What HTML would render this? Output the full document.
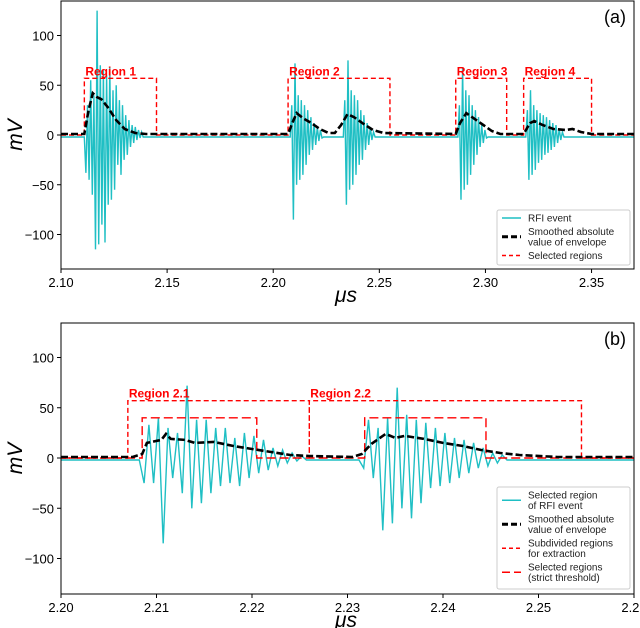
<!DOCTYPE html>
<html><head><meta charset="utf-8"><style>
body{margin:0;background:#fff}
svg{display:block;font-family:"Liberation Sans","DejaVu Sans",sans-serif}
</style></head><body>
<svg id="chart" width="640" height="628" viewBox="0 0 640 628" xmlns="http://www.w3.org/2000/svg"></svg>
<script>
// ---------- DATA (panel a) ----------
const aBurstStarts = [2.111, 2.208, 2.233, 2.287, 2.319];
const aBurstStep = 0.00075;
const aBurst1 = [-2,-38,30,-45,55,-60,40,-115,125,-110,70,-90,65,-108,60,-70,68,-65,45,-55,50,-30,35,-40,30,-25,20,-20,15,-12,10,-8,8,-5,5,-3,3,-2];
const aBurst2 = [-2,30,-85,72,-50,40,-45,35,-40,30,-30,25,-20,18,-15,12,-10,8,-6,5,-3,-2];
const aBurst3 = [-2,35,-70,75,-55,45,-50,40,-40,35,-30,25,-25,20,-15,12,-10,8,-5,3,-2];
const aBurst4 = [-2,30,-65,68,-55,45,-50,40,-40,30,-30,25,-20,18,-12,10,-8,5,-3,-2];
const aBurst5 = [-2,25,-45,45,-40,30,-35,25,-28,22,-25,20,-20,18,-18,15,-15,12,-12,10,-8,6,-5,3,-2];
const aEnvX = [2.10,2.111,2.113,2.115,2.117,2.119,2.122,2.126,2.13,2.135,2.14,2.207,2.209,2.211,2.214,2.218,2.222,2.226,2.229,2.232,2.235,2.238,2.242,2.247,2.252,2.286,2.288,2.291,2.295,2.299,2.303,2.307,2.318,2.321,2.323,2.327,2.332,2.338,2.341,2.345,2.35,2.37];
const aEnvY = [1,1,25,42,38,36,28,15,6,2,1,1,12,22,17,12,6,2,2,10,21,18,12,5,2,1,12,22,16,10,4,1,1,12,14,10,6,5,6,3,1,1];
const aRegStart = [2.111,2.207,2.286,2.318];
const aRegEnd = [2.145,2.255,2.310,2.350];
const aRegLabels = ["Region 1","Region 2","Region 3","Region 4"];
const aRegHeight = 57;
const aXTicks = [2.10,2.15,2.20,2.25,2.30,2.35];
const aXTickLabels = ["2.10","2.15","2.20","2.25","2.30","2.35"];
const yTicks = [-100,-50,0,50,100];
const yTickLabels = ["\u2212100","\u221250","0","50","100"];
// ---------- DATA (panel b) ----------
const bBurstStarts = [2.2082, 2.2312];
const bBurstStep = 0.0005;
const bBurst1 = [-2,-25,33,-25,40,-85,30,-20,25,-35,72,-50,38,-45,38,-35,30,-28,30,-25,20,-28,25,-20,22,-15,18,-12,10,-8,8,-5,5,-3,2,-2];
const bBurst2 = [-2,-10,38,-20,30,-72,40,-65,70,-50,43,-60,38,-45,35,-30,30,-28,25,-25,20,-20,18,-15,15,-10,10,-8,5,-5,3,-2];
const bEnvX = [2.20,2.2075,2.2085,2.209,2.2105,2.211,2.2115,2.213,2.214,2.216,2.218,2.22,2.222,2.224,2.226,2.2305,2.2315,2.2325,2.234,2.235,2.236,2.238,2.24,2.242,2.244,2.246,2.248,2.252,2.26];
const bEnvY = [1,1,4,15,18,24,19,18,15,16,12,9,6,3,2,1,4,14,24,20,22,19,15,12,8,5,3,1,1];
const bSubStart = [2.207,2.226];
const bSubEnd = [2.226,2.2545];
const bSubLabels = ["Region 2.1","Region 2.2"];
const bSubHeight = 57;
const bStrictStart = [2.2085,2.2318];
const bStrictEnd = [2.2205,2.2445];
const bStrictHeight = 40;
const bXTicks = [2.20,2.21,2.22,2.23,2.24,2.25,2.26];
const bXTickLabels = ["2.20","2.21","2.22","2.23","2.24","2.25","2.26"];

const NS="http://www.w3.org/2000/svg";
const svg=document.getElementById('chart');
function mk(tag,attrs,parent){const e=document.createElementNS(NS,tag);for(const k in attrs)e.setAttribute(k,attrs[k]);(parent||svg).appendChild(e);return e;}
const CYAN='#1fbfc4';

function panel(cfg){
  const L=61,R=634,T=cfg.top,B=cfg.bottom;
  const x=v=>L+(v-cfg.x0)/(cfg.x1-cfg.x0)*(R-L);
  const y=v=>cfg.zeroY-v*cfg.pxPer;
  const g=mk('g',{});
  
  
  const cp='clip'+cfg.name;
  const cpe=mk('clipPath',{id:cp},g);mk('rect',{x:L,y:T,width:R-L,height:B-T},cpe);
  const plot=mk('g',{'clip-path':'url(#'+cp+')'},g);
  let pts=[[cfg.x0,-2]];
  cfg.bursts.forEach((b,i)=>{b.forEach((v,j)=>pts.push([cfg.starts[i]+j*cfg.step,v]));});
  pts.push([cfg.x1,-2]);
  pts.sort((a,b)=>a[0]-b[0]);
  const sig=mk('polyline',{points:pts.map(p=>x(p[0]).toFixed(1)+','+y(p[1]).toFixed(1)).join(' '),fill:'none',stroke:CYAN,'stroke-width':1.4},plot);
  
  
  cfg.regions.forEach(r=>{
    let d='M'+x(cfg.x0)+','+y(0);
    r.s.forEach((s,i)=>{d+=' L'+x(s)+','+y(0)+' L'+x(s)+','+y(r.h)+' L'+x(r.e[i])+','+y(r.h)+' L'+x(r.e[i])+','+y(0);});
    d+=' L'+x(cfg.x1)+','+y(0);
    const p=mk('path',{d:d,fill:'none',stroke:'#ff0000','stroke-width':1.4,'stroke-dasharray':r.dash},plot);
    
    
  });
  const env=mk('polyline',{points:cfg.envX.map((v,i)=>x(v).toFixed(1)+','+y(cfg.envY[i]).toFixed(1)).join(' '),fill:'none',stroke:'#000','stroke-width':2.6,'stroke-dasharray':'7,3'},plot);
  
  
  cfg.labels.forEach((t,i)=>{
    const tx=mk('text',{x:x(cfg.labelX[i])+1,y:y(cfg.labelH)-3,fill:'#ff0000','font-size':12,'font-weight':'bold'},g);
    tx.textContent=t;
    
    
  });
  const fr=mk('rect',{x:L,y:T,width:R-L,height:B-T,fill:'none',stroke:'#000','stroke-width':1},g);
  
  
  yTicks.forEach((v,i)=>{
    mk('line',{x1:L-4,x2:L,y1:y(v),y2:y(v),stroke:'#000'},g);
    const t=mk('text',{x:L-7,y:y(v)+5,'text-anchor':'end','font-size':13},g);
    t.textContent=yTickLabels[i];
    
    
  });
  cfg.xTicks.forEach((v,i)=>{
    mk('line',{x1:x(v),x2:x(v),y1:B,y2:B+4,stroke:'#000'},g);
    const t=mk('text',{x:x(v),y:B+18,'text-anchor':'middle','font-size':13},g);
    t.textContent=cfg.xTickLabels[i];
    
    
  });
  const yl=mk('text',{x:0,y:0,transform:'translate(22,'+((T+B)/2)+') rotate(-90)','text-anchor':'middle','font-size':21,'font-style':'italic'},g);
  yl.textContent='mV';
  
  
  const xl=mk('text',{x:346,y:B+33,'text-anchor':'middle','font-size':21,'font-style':'italic'},g);
  xl.textContent='\u03bcs';
  
  
  const pl=mk('text',{x:626,y:T+22,'text-anchor':'end','font-size':18},g);
  pl.textContent=cfg.panelLabel;
  
  
  const lg=mk('g',{},g);
  
  
  mk('rect',{x:497,y:cfg.legY,width:133,height:cfg.legH,fill:'#fff',stroke:'#ccc',rx:2},lg);
  let cy=cfg.legY+8; // center of first text line
  cfg.legend.forEach(en=>{
    const n=en.lines.length;
    const mid=cy+(n-1)*10.5/2;
    const ln=mk('line',{x1:502,x2:521,y1:mid,y2:mid,stroke:en.color,'stroke-width':en.w,'stroke-dasharray':en.dash||''},lg);
    
    
    en.lines.forEach((s,k)=>{
      const t=mk('text',{x:528,y:cy+k*10.5+3.5,'font-size':10,fill:'#222'},lg);
      t.textContent=s;
      
      
    });
    cy+=n*10.5+3;
  });
}

panel({name:'panel-a',top:1,bottom:269,zeroY:135,pxPer:0.995,x0:2.10,x1:2.37,
  bursts:[aBurst1,aBurst2,aBurst3,aBurst4,aBurst5],starts:aBurstStarts,step:aBurstStep,
  envX:aEnvX,envY:aEnvY,
  regions:[{s:aRegStart,e:aRegEnd,h:aRegHeight,dash:'5,3',name:'selected-regions'}],
  labels:aRegLabels,labelX:aRegStart,labelH:aRegHeight,
  xTicks:aXTicks,xTickLabels:aXTickLabels,panelLabel:'(a)',
  legY:210,legH:55,
  legend:[{lines:['RFI event'],color:CYAN,w:1.5},
          {lines:['Smoothed absolute','value of envelope'],color:'#000',w:3,dash:'6,3'},
          {lines:['Selected regions'],color:'#ff0000',w:1.4,dash:'4,3'}]});

panel({name:'panel-b',top:323,bottom:594,zeroY:458,pxPer:1.005,x0:2.20,x1:2.26,
  bursts:[bBurst1,bBurst2],starts:bBurstStarts,step:bBurstStep,
  envX:bEnvX,envY:bEnvY,
  regions:[{s:bSubStart,e:bSubEnd,h:bSubHeight,dash:'5,3',name:'subdivided-regions'},
           {s:bStrictStart,e:bStrictEnd,h:bStrictHeight,dash:'9,4',name:'strict-regions'}],
  labels:bSubLabels,labelX:bSubStart,labelH:bSubHeight,
  xTicks:bXTicks,xTickLabels:bXTickLabels,panelLabel:'(b)',
  legY:487,legH:102,
  legend:[{lines:['Selected region','of RFI event'],color:CYAN,w:1.5},
          {lines:['Smoothed absolute','value of envelope'],color:'#000',w:3,dash:'6,3'},
          {lines:['Subdivided regions','for extraction'],color:'#ff0000',w:1.4,dash:'4,3'},
          {lines:['Selected regions','(strict threshold)'],color:'#ff0000',w:1.4,dash:'8,4'}]});
</script>
</body></html>
